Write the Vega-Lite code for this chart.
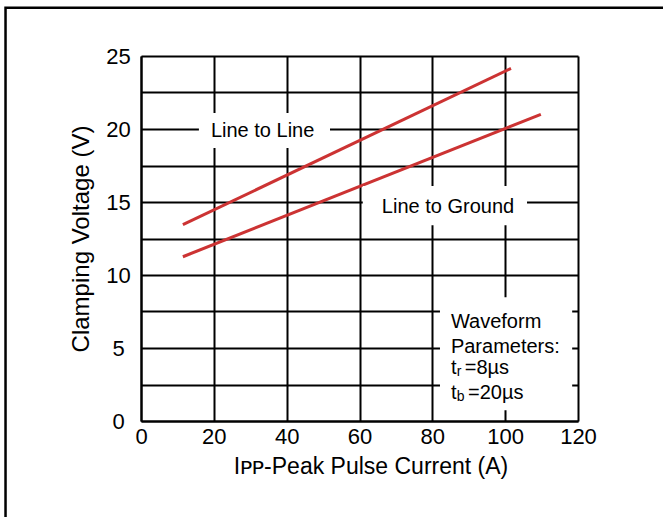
{
  "$schema": "https://vega.github.io/schema/vega-lite/v6.json",
  "width": 437,
  "height": 365,
  "autosize": "none",
  "padding": {"left": 141, "top": 56, "right": 85, "bottom": 96},
  "background": "white",
  "config": {
    "view": {"stroke": null},
    "font": "Liberation Sans",
    "axis": {
      "grid": true,
      "gridColor": "black",
      "gridWidth": 2,
      "gridOpacity": 1,
      "domainColor": "black",
      "domainWidth": 2,
      "ticks": false,
      "labelFlush": false,
      "labelFont": "Liberation Sans",
      "labelFontSize": 22,
      "labelColor": "black",
      "titleFont": "Liberation Sans",
      "titleFontSize": 23,
      "titleFontWeight": "normal",
      "titleColor": "black"
    }
  },
  "datasets": {
    "border": [{"x": -37.2, "x2": 200, "y": 28.3, "y2": -20}],
    "curves": [
      {"series": "Line to Line", "x": 11.5, "y": 13.45},
      {"series": "Line to Line", "x": 101.6, "y": 24.15},
      {"series": "Line to Ground", "x": 11.5, "y": 11.25},
      {"series": "Line to Ground", "x": 109.8, "y": 21.0}
    ],
    "boxes": [
      {"x": 15.9, "x2": 51.9, "y": 18.7, "y2": 21.1},
      {"x": 60.9, "x2": 106.0, "y": 13.4, "y2": 16.1},
      {"x": 82.1, "x2": 118.4, "y": 0.73, "y2": 8.47}
    ],
    "labels": [
      {"text": "Line to Line", "x": 33.4, "y": 19.45},
      {"text": "Line to Ground", "x": 84.3, "y": 14.27}
    ],
    "notes": [
      {"text": "Waveform", "x": 85.1, "y": 6.35},
      {"text": "Parameters:", "x": 85.1, "y": 4.66},
      {"text": "t", "x": 85.1, "y": 3.2},
      {"text": "=8µs", "x": 88.9, "y": 3.2},
      {"text": "t", "x": 85.1, "y": 1.49},
      {"text": "=20µs", "x": 89.8, "y": 1.49}
    ],
    "subs": [
      {"text": "r", "x": 86.7, "y": 3.06},
      {"text": "b", "x": 86.7, "y": 1.35}
    ]
  },
  "encoding": {
    "x": {
      "field": "x",
      "type": "quantitative",
      "scale": {"domain": [0, 120], "nice": false, "zero": false},
      "axis": {
        "values": [0, 20, 40, 60, 80, 100, 120],
        "labelPadding": 5,
        "titlePadding": 8,
        "titleX": 229.5,
        "titleAlign": "center",
        "title": "Iᴘᴘ-Peak Pulse Current (A)"
      }
    },
    "y": {
      "field": "y",
      "type": "quantitative",
      "scale": {"domain": [0, 25], "nice": false, "zero": false},
      "axis": {
        "values": [0, 2.5, 5, 7.5, 10, 12.5, 15, 17.5, 20, 22.5, 25],
        "labelExpr": "datum.value % 5 === 0 ? datum.label : ''",
        "labelAlign": "center",
        "labelPadding": 23,
        "titlePadding": 12,
        "titleFontSize": 24,
        "title": "Clamping Voltage (V)"
      }
    }
  },
  "layer": [
    {
      "data": {"name": "border"},
      "mark": {"type": "rect", "fill": "white", "fillOpacity": 0, "stroke": "black", "strokeWidth": 2.5, "clip": false},
      "encoding": {"x2": {"field": "x2"}, "y2": {"field": "y2"}}
    },
    {
      "data": {"name": "curves"},
      "mark": {"type": "line", "color": "#cc3333", "strokeWidth": 3},
      "encoding": {"detail": {"field": "series", "type": "nominal"}}
    },
    {
      "data": {"name": "boxes"},
      "mark": {"type": "rect", "fill": "white", "stroke": null},
      "encoding": {"x2": {"field": "x2"}, "y2": {"field": "y2"}}
    },
    {
      "data": {"name": "labels"},
      "mark": {"type": "text", "fontSize": 20, "align": "center", "baseline": "alphabetic", "color": "black", "font": "Liberation Sans"},
      "encoding": {"text": {"field": "text"}}
    },
    {
      "data": {"name": "notes"},
      "mark": {"type": "text", "fontSize": 20, "align": "left", "baseline": "alphabetic", "color": "black", "font": "Liberation Sans"},
      "encoding": {"text": {"field": "text"}}
    },
    {
      "data": {"name": "subs"},
      "mark": {"type": "text", "fontSize": 14, "align": "left", "baseline": "alphabetic", "color": "black", "font": "Liberation Sans"},
      "encoding": {"text": {"field": "text"}}
    }
  ]
}
